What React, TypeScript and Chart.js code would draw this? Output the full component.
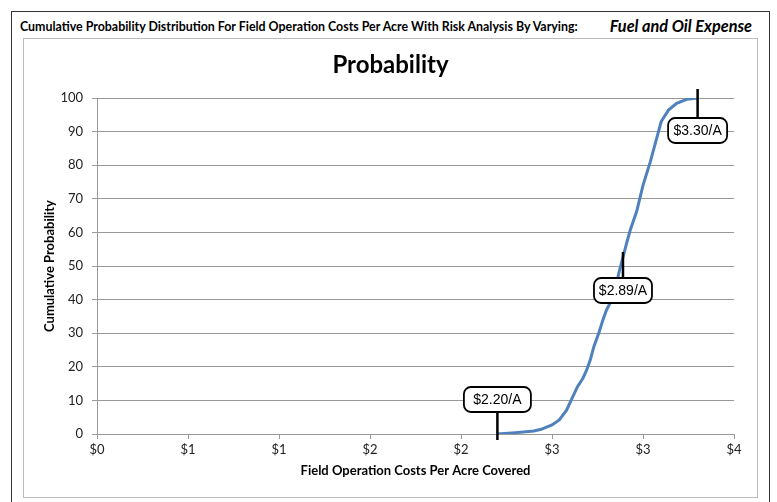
import React, { useEffect, useRef } from 'react';
import { Chart, registerables } from 'chart.js';

Chart.register(...registerables);
Chart.defaults.font.family = 'Lato, sans-serif';

// Cost per acre ($) and cumulative probability (%)
const costValues = [2.20, 2.30, 2.40, 2.44, 2.50, 2.54, 2.58, 2.61, 2.64, 2.67, 2.69, 2.71, 2.73, 2.76, 2.78, 2.80, 2.82, 2.85, 2.87, 2.91, 2.93, 2.965, 3.00, 3.04, 3.075, 3.10, 3.14, 3.185, 3.24, 3.30];
const cumulativeProb = [0, 0.4, 0.9, 1.4, 2.7, 4.2, 7.1, 10.6, 14.1, 16.6, 19, 22, 26, 30.5, 34, 37, 39, 44, 48.5, 56.8, 60.7, 66.2, 74, 81, 88, 93, 96.4, 98.4, 99.6, 100];

// Marker annotations
const markerCosts = [2.20, 2.89, 3.30];
const markerProbs = [0, 50, 100];
const markerLabels = ['$2.20/A', '$2.89/A', '$3.30/A'];

// Axis ranges
const xMin = 0;
const xMax = 3.5;
const xStep = 0.5;
const yMin = 0;
const yMax = 100;
const yStep = 10;

const headerText = 'Cumulative Probability Distribution For Field Operation Costs Per Acre With Risk Analysis By Varying:';
const headerVariable = 'Fuel and Oil Expense';
const chartTitle = 'Probability';
const xTitle = 'Field Operation Costs Per Acre Covered';
const yTitle = 'Cumulative Probability';

// Styling for marker callouts (offsets in px relative to marker point)
const markerStyles = [
  { lineFrom: 6, lineTo: -22, boxTop: -47, boxW: 67 },
  { lineFrom: -14, lineTo: 12, boxTop: 12, boxW: 58 },
  { lineFrom: -9, lineTo: 20, boxTop: 20, boxW: 59 },
];

const markerPlugin = {
  id: 'markerCallouts',
  afterDatasetsDraw(chart: any) {
    const { ctx } = chart;
    const xs = chart.scales.x;
    const ys = chart.scales.y;
    ctx.save();
    markerCosts.forEach((c, i) => {
      const px = xs.getPixelForValue(c);
      const py = ys.getPixelForValue(markerProbs[i]);
      const s = markerStyles[i];
      ctx.strokeStyle = '#000';
      ctx.lineWidth = 2.5;
      ctx.beginPath();
      ctx.moveTo(px, py + s.lineFrom);
      ctx.lineTo(px, py + s.lineTo);
      ctx.stroke();
      const bh = 25;
      const bx = px - s.boxW / 2;
      const by = py + s.boxTop;
      ctx.beginPath();
      ctx.roundRect(bx, by, s.boxW, bh, 7);
      ctx.fillStyle = '#fff';
      ctx.fill();
      ctx.lineWidth = 1.8;
      ctx.stroke();
      ctx.fillStyle = '#000';
      ctx.font = '14px "Liberation Sans", Arial, sans-serif';
      ctx.textAlign = 'center';
      ctx.textBaseline = 'middle';
      ctx.fillText(markerLabels[i], px, by + bh / 2 + 1);
    });
    ctx.restore();
  },
};

export default function App() {
  const canvasRef = useRef<HTMLCanvasElement | null>(null);

  useEffect(() => {
    if (!canvasRef.current) return;
    const chart = new Chart(canvasRef.current, {
      type: 'line',
      data: {
        datasets: [
          {
            data: costValues.map((c, i) => ({ x: c, y: cumulativeProb[i] })),
            borderColor: '#4F81BD',
            borderWidth: 3,
            pointRadius: 0,
            tension: 0,
            fill: false,
            xAxisID: 'x',
            yAxisID: 'y',
          },
        ],
      },
      options: {
        animation: false,
        responsive: false,
        layout: { padding: 0 },
        plugins: {
          legend: { display: false },
          tooltip: { enabled: false },
          title: {
            display: true,
            text: chartTitle,
            color: '#000',
            font: { size: 24, weight: 'bold' },
            padding: { top: 12, bottom: 18.2 },
          },
        },
        scales: {
          x: {
            type: 'linear',
            min: xMin,
            max: xMax,
            afterFit: (s: any) => { s.height = 63; },
            ticks: {
              stepSize: xStep,
              callback: (v: any) => '$' + Math.round(Number(v)),
              color: '#222',
              font: { size: 13 },
              padding: 3,
              maxRotation: 0,
              autoSkip: false,
            },
            grid: { drawOnChartArea: false, drawTicks: true, tickLength: 5, color: '#999' },
            border: { color: '#999', width: 1 },
            title: {
              display: true,
              text: xTitle,
              color: '#000',
              font: { size: 13, weight: 'bold' },
              padding: { top: 0, bottom: 18 },
            },
          },
          y: {
            min: yMin,
            max: yMax,
            afterFit: (s: any) => { s.width = 73; },
            ticks: { stepSize: yStep, color: '#222', font: { size: 13 }, padding: 9 },
            grid: { color: '#999', tickLength: 5 },
            border: { color: '#999', width: 1 },
            title: {
              display: true,
              text: yTitle,
              color: '#000',
              font: { size: 13, weight: 'bold' },
              padding: { top: 18, bottom: 0 },
            },
          },
          yRight: {
            position: 'right',
            min: yMin,
            max: yMax,
            afterFit: (s: any) => { s.width = 23; },
            ticks: { display: false },
            grid: { display: false, drawOnChartArea: false, drawTicks: false },
            border: { display: false },
          },
        },
      },
      plugins: [markerPlugin],
    } as any);
    return () => chart.destroy();
  }, []);

  return (
    <div style={{ position: 'fixed', left: 0, top: 0, width: 777, height: 502, background: '#fff', overflow: 'hidden' }}>
      <div style={{ position: 'absolute', left: 11, top: 11, width: 759, height: 500, border: '1.5px solid #333', boxSizing: 'border-box' }} />
      <div style={{ position: 'absolute', left: 20, top: 19, height: 16, lineHeight: '16px', fontFamily: 'Lato, sans-serif', fontWeight: 'bold', fontSize: 12.4, color: '#000', whiteSpace: 'nowrap' }}>
        {headerText}
      </div>
      <div style={{ position: 'absolute', right: 25, top: 16, height: 20, lineHeight: '20px', fontFamily: 'Lato, sans-serif', fontWeight: 'bold', fontStyle: 'italic', fontSize: 16.3, color: '#000', whiteSpace: 'nowrap' }}>
        {headerVariable}
      </div>
      <div style={{ position: 'absolute', left: 23, top: 38, width: 735, height: 460, border: '1px solid #bbb', boxSizing: 'border-box' }} />
      <canvas ref={canvasRef} width={733} height={458} style={{ position: 'absolute', left: 24, top: 39, width: 733, height: 458 }} />
    </div>
  );
}
